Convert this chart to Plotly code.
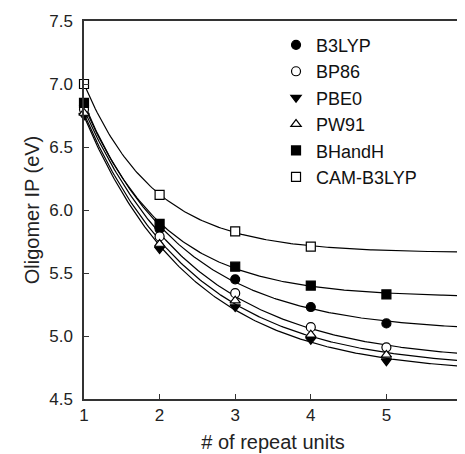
import numpy as np
import plotly.graph_objects as go

# ---- data ----
repeat_units = [1, 2, 3, 4, 5]
series_names = ["B3LYP", "BP86", "PBE0", "PW91", "BHandH", "CAM-B3LYP"]
b3lyp = [6.83, 5.85, 5.45, 5.23, 5.10]
bp86 = [6.80, 5.79, 5.34, 5.07, 4.91]
pbe0 = [6.75, 5.69, 5.23, 4.97, 4.80]
pw91 = [6.77, 5.73, 5.28, 5.01, 4.85]
bhandh = [6.85, 5.89, 5.55, 5.40, 5.33]
cam_b3lyp = [7.00, 6.12, 5.83, 5.71]
x_ticks = [1, 2, 3, 4, 5, 6]
y_ticks = [4.5, 5.0, 5.5, 6.0, 6.5, 7.0, 7.5]

values = [b3lyp, bp86, pbe0, pw91, bhandh, cam_b3lyp]
symbols = ["circle", "circle-open", "triangle-down", "triangle-up-open", "square", "square-open"]


def exp_fit(x, y):
    """Least-squares fit y = a + b*exp(-k x)."""
    x = np.asarray(x, float)
    y = np.asarray(y, float)
    best = None
    for k in np.linspace(0.2, 3.0, 561):
        A = np.column_stack([np.ones_like(x), np.exp(-k * x)])
        coef, *_ = np.linalg.lstsq(A, y, rcond=None)
        err = np.sum((A @ coef - y) ** 2)
        if best is None or err < best[0]:
            best = (err, k, coef)
    _, k, (a, b) = best
    return lambda t: a + b * np.exp(-k * t)


fig = go.Figure()
xs = np.linspace(1, 6, 200)
for name, vals in zip(series_names, values):
    f = exp_fit(repeat_units[: len(vals)], vals)
    fig.add_trace(go.Scatter(x=xs, y=f(xs), mode="lines",
                             line=dict(color="black", width=1.2),
                             showlegend=False, hoverinfo="skip", cliponaxis=True))

for name, vals, sym in zip(series_names, values, symbols):
    open_ = sym.endswith("open")
    fig.add_trace(go.Scatter(
        x=repeat_units[: len(vals)], y=vals, mode="markers", name=name,
        cliponaxis=False,
        marker=dict(symbol=sym.replace("-open", "") if open_ else sym,
                    size=9,
                    color="white" if open_ else "black",
                    line=dict(color="black", width=1.2)),
    ))

font = "Liberation Sans, Arial, sans-serif"
fig.update_layout(
    width=457, height=446,
    margin=dict(l=76, r=3, t=13, b=55),
    paper_bgcolor="white", plot_bgcolor="white",
    font=dict(family=font, color="#222", size=17),
    legend=dict(x=0.508, y=0.985, xanchor="left", yanchor="top",
                font=dict(size=18, color="#111"), bgcolor="rgba(0,0,0,0)",
                tracegroupgap=0, itemwidth=30),
    showlegend=True,
)
fig.update_xaxes(range=[1, 6], tickvals=x_ticks, ticks="inside", ticklen=5,
                 tickcolor="#333", showline=True, linecolor="#333", linewidth=1.5,
                 mirror=True, showgrid=False, zeroline=False, automargin=False,
                 ticklabeloverflow="allow",
                 title=dict(text="# of repeat units", font=dict(size=20), standoff=11))
fig.update_yaxes(range=[4.5, 7.5], tickvals=y_ticks, tickformat=".1f", ticks="inside",
                 ticklen=5, tickcolor="#333", showline=True, linecolor="#333",
                 linewidth=1.5, mirror=True, showgrid=False, zeroline=False,
                 ticklabelstandoff=6, automargin=False,
                 title=dict(text="Oligomer IP (eV)", font=dict(size=20), standoff=4))

fig.write_html("out.html")
